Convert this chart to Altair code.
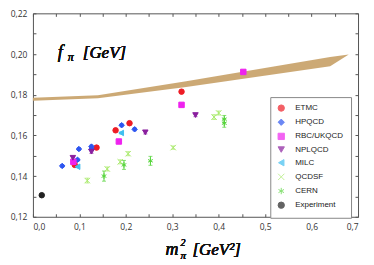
import altair as alt
import pandas as pd

groups = ["ETMC", "HPQCD", "RBC/UKQCD", "NPLQCD", "MILC", "QCDSF", "CERN", "Experiment"]
colors = ["#ee1c25", "#2d55f0", "#ee22ee", "#8a1f9e", "#40bff0", "#aaea6c", "#55d43a", "#222222"]
shapes = ["circle", "diamond", "square", "triangle-down", "triangle-left",
          "M-1,-1L1,1M1,-1L-1,1",
          "M0,-1L0,1M-0.87,-0.5L0.87,0.5M-0.87,0.5L0.87,-0.5",
          "circle"]

etmc_x = [0.090, 0.137, 0.178, 0.208, 0.320]
etmc_y = [0.1455, 0.1540, 0.1625, 0.1660, 0.1815]
etmc_e = [0.0008, 0.0008, 0.0008, 0.0008, 0.0009]
hpqcd_x = [0.063, 0.096, 0.099, 0.126, 0.126, 0.191, 0.219]
hpqcd_y = [0.1450, 0.1480, 0.1533, 0.1545, 0.1532, 0.1650, 0.1630]
hpqcd_e = [0.0007, 0.0007, 0.0007, 0.0007, 0.0007, 0.0007, 0.0007]
rbc_x = [0.087, 0.185, 0.320, 0.453]
rbc_y = [0.1470, 0.1570, 0.1750, 0.1912]
rbc_e = [0.0008, 0.0009, 0.0009, 0.0008]
npl_x = [0.086, 0.126, 0.242, 0.350]
npl_y = [0.1490, 0.1520, 0.1615, 0.1700]
npl_e = [0.0008, 0.0008, 0.0008, 0.0008]
milc_x = [0.096, 0.190]
milc_y = [0.1446, 0.1612]
milc_e = [0.0005, 0.0005]
qcdsf_x = [0.117, 0.160, 0.188, 0.205, 0.302, 0.390, 0.400]
qcdsf_y = [0.1378, 0.1435, 0.1470, 0.1510, 0.1540, 0.1690, 0.1710]
qcdsf_e = [0.0012, 0.0010, 0.0010, 0.0010, 0.0008, 0.0012, 0.0010]
cern_x = [0.153, 0.196, 0.253, 0.412, 0.412]
cern_y = [0.1400, 0.1455, 0.1475, 0.1660, 0.1680]
cern_e = [0.0025, 0.0022, 0.0022, 0.0020, 0.0018]
exp_x = [0.019]
exp_y = [0.1306]
exp_e = [0.0]

band_x = [0.0, 0.14, 0.33, 0.64, 0.68]
band_lo = [0.1770, 0.1782, 0.1838, 0.1940, 0.1998]
band_hi = [0.1785, 0.1797, 0.1866, 0.1985, 0.1998]

series = [(etmc_x, etmc_y, etmc_e), (hpqcd_x, hpqcd_y, hpqcd_e), (rbc_x, rbc_y, rbc_e),
          (npl_x, npl_y, npl_e), (milc_x, milc_y, milc_e), (qcdsf_x, qcdsf_y, qcdsf_e),
          (cern_x, cern_y, cern_e), (exp_x, exp_y, exp_e)]
rows = []
for g, (xs, ys, es) in zip(groups, series):
    for x, y, e in zip(xs, ys, es):
        rows.append({"group": g, "x": x, "y": y, "lo": y - e, "hi": y + e})
df = pd.DataFrame(rows)
band = pd.DataFrame({"x": band_x, "lo": band_lo, "hi": band_hi})

xmajor = [0.0, 0.1, 0.2, 0.3, 0.4, 0.5, 0.6, 0.7]
xminor = [0.05, 0.15, 0.25, 0.35, 0.45, 0.55, 0.65]
ymajor = [0.12, 0.14, 0.16, 0.18, 0.20, 0.22]
yminor = [0.13, 0.15, 0.17, 0.19, 0.21]

LBL = "Open Sans"
xs_ = alt.Scale(domain=[0.0, 0.7], nice=False, zero=False)
ys_ = alt.Scale(domain=[0.12, 0.22], nice=False, zero=False)
inward = {"expr": "-3"}
xaxis = alt.Axis(values=xmajor + xminor,
                 labelExpr="abs(datum.value*10 - round(datum.value*10)) > 0.01 ? '' : replace(format(datum.value, '.1f'), '.', ',')",
                 title=None, grid=False, tickSize=inward, labelPadding=9, labelFont=LBL,
                 labelFontSize=8.5, labelColor="#333", domainColor="#555", tickColor="#555")
yaxis = alt.Axis(values=ymajor + yminor,
                 labelExpr="abs(datum.value*50 - round(datum.value*50)) > 0.01 ? '' : replace(format(datum.value, '.2f'), '.', ',')",
                 title=None, grid=False, tickSize=inward, labelPadding=9, labelFont=LBL,
                 labelFontSize=8.5, labelColor="#333", domainColor="#555", tickColor="#555")

cscale = alt.Scale(domain=groups, range=colors)
sscale = alt.Scale(domain=groups, range=shapes)

bandc = alt.Chart(band).mark_area(color="#c9a46e", opacity=0.95).encode(
    x=alt.X("x:Q", scale=xs_, axis=xaxis), y=alt.Y("lo:Q", scale=ys_, axis=yaxis), y2="hi:Q")

top_ax = alt.Chart(band).mark_point(opacity=0).encode(
    x=alt.X("x:Q", scale=xs_, axis=alt.Axis(orient="top", values=xmajor + xminor, labels=False,
            title=None, grid=False, tickSize={"expr": "-3"}, domainColor="#555", tickColor="#555")),
    y=alt.Y("lo:Q", scale=ys_, axis=alt.Axis(orient="right", values=ymajor + yminor, labels=False,
            title=None, grid=False, tickSize={"expr": "-3"}, domainColor="#555", tickColor="#555")))

err = alt.Chart(df).mark_rule(strokeWidth=1).encode(
    x=alt.X("x:Q", axis=None), y=alt.Y("lo:Q", axis=None), y2="hi:Q",
    color=alt.Color("group:N", scale=cscale))
capl = alt.Chart(df).mark_tick(size=4, thickness=1, orient="horizontal").encode(
    x=alt.X("x:Q", axis=None), y=alt.Y("lo:Q", axis=None), color=alt.Color("group:N", scale=cscale))
caph = alt.Chart(df).mark_tick(size=4, thickness=1, orient="horizontal").encode(
    x=alt.X("x:Q", axis=None), y=alt.Y("hi:Q", axis=None), color=alt.Color("group:N", scale=cscale))

pts = alt.Chart(df).mark_point(filled=True, size=30, strokeWidth=1, opacity=1).encode(
    x=alt.X("x:Q", axis=None), y=alt.Y("y:Q", axis=None),
    color=alt.Color("group:N", scale=cscale, sort=groups,
                    legend=alt.Legend(orient="none", legendX=238, legendY=84, title=None,
                                      strokeColor="#888", fillColor="white", padding=7,
                                      labelFont="Liberation Sans", labelFontSize=8,
                                      labelColor="#222", symbolSize=40, rowPadding=2.2,
                                      labelOffset=10, symbolStrokeWidth=1)),
    shape=alt.Shape("group:N", scale=sscale, sort=groups),
    stroke=alt.Stroke("group:N", scale=cscale, sort=groups))

SERIF = "Liberation Serif"
def txt(s, x, y, size):
    return alt.Chart(band).mark_text(text=s, font=SERIF, fontStyle="italic", fontSize=size,
                                     fontWeight="normal", align="left", baseline="alphabetic",
                                     color="#111").encode(x=alt.value(x), y=alt.value(y))

texts = [txt("f", 25, 45, 18), txt("π", 35, 48, 12), txt("[GeV]", 50, 45, 17),
         txt("m", 133, 242, 18), txt("2", 148, 233, 10), txt("π", 148, 246, 11),
         txt("[GeV²]", 160, 242, 17)]

chart = alt.layer(bandc, top_ax, err, capl, caph, pts, *texts).resolve_axis(
    x="independent", y="independent"
).properties(
    width=326, height=204, padding={"left": 25, "top": 5, "right": 8, "bottom": 45},
    autosize=alt.AutoSizeParams(type="none")
).configure_view(stroke=None)

chart.save("out.html", embed_options={"renderer": "svg", "actions": False})
